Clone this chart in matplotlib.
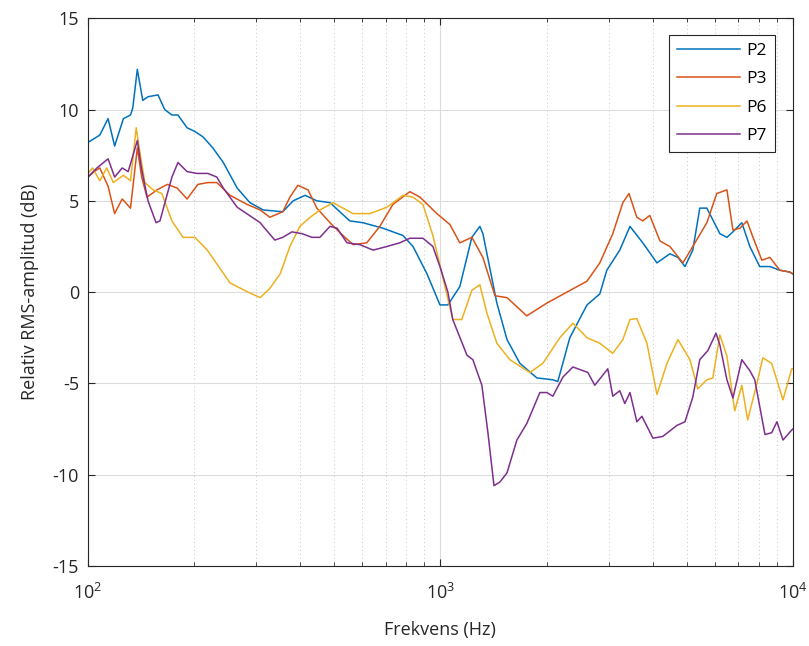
import numpy as np
import matplotlib
matplotlib.use("Agg")
import matplotlib.pyplot as plt
from matplotlib.ticker import LogLocator, FixedLocator, NullFormatter

# values (frequency in Hz, relative RMS amplitude in dB)
p2_f = [100, 108, 114, 119, 126, 132, 134, 138, 143, 148, 158, 165, 173, 180,
        191, 201, 212, 226, 242, 265, 288, 314, 357, 382, 413, 446, 486, 553,
        603, 687, 783, 836, 916, 997, 1050, 1135, 1228, 1294, 1320, 1446, 1545,
        1681, 1878, 2084, 2153, 2329, 2606, 2833, 2966, 3228, 3451, 3752, 4115,
        4478, 4721, 4943, 5202, 5445, 5702, 6209, 6501, 6761, 7166, 7551, 8054,
        8610, 9183, 9795, 10000]
p2_v = [8.2, 8.6, 9.5, 8.0, 9.5, 9.7, 10.1, 12.2, 10.5, 10.7, 10.8, 10.0, 9.7, 9.7,
        9.0, 8.8, 8.5, 7.9, 7.1, 5.7, 4.9, 4.5, 4.4, 5.0, 5.3, 5.0, 4.9, 3.9,
        3.8, 3.5, 3.1, 2.5, 1.0, -0.7, -0.7, 0.3, 3.0, 3.6, 3.2, -0.6, -2.6,
        -3.9, -4.7, -4.8, -4.9, -2.5, -0.7, -0.1, 1.2, 2.3, 3.6, 2.7, 1.6,
        2.1, 1.9, 1.4, 2.3, 4.6, 4.6, 3.2, 3.0, 3.3, 3.8, 2.5, 1.4,
        1.4, 1.2, 1.1, 1.0]

p3_f = [100, 104, 108, 114, 119, 125, 132, 138, 142, 147, 157, 168, 179, 191,
        205, 219, 232, 253, 283, 308, 328, 357, 374, 394, 421, 446, 486, 529,
        565, 618, 673, 733, 819, 875, 977, 1064, 1135, 1228, 1320, 1428, 1545,
        1758, 2005, 2285, 2606, 2833, 3084, 3294, 3428, 3609, 3752, 3927, 4198,
        4478, 4877, 5202, 5702, 6082, 6501, 6761, 7079, 7413, 7709, 8166, 8610,
        9183, 9795, 10000]
p3_v = [6.3, 6.6, 6.8, 5.8, 4.3, 5.1, 4.6, 7.9, 6.3, 5.2, 5.6, 5.9, 5.7, 5.1,
        5.9, 6.0, 6.0, 5.3, 4.8, 4.5, 4.1, 4.4, 5.2, 5.85, 5.6, 4.6, 3.8, 3.1,
        2.6, 2.7, 3.6, 4.8, 5.5, 5.2, 4.3, 3.7, 2.7, 3.0, 1.9, -0.2, -0.3,
        -1.3, -0.6, 0.0, 0.6, 1.6, 3.2, 4.9, 5.4, 4.1, 3.9, 4.2, 2.8,
        2.5, 1.6, 2.5, 3.8, 5.4, 5.6, 3.4, 3.5, 3.9, 3.0, 1.75, 1.9,
        1.2, 1.1, 1.0]

p6_f = [100, 103, 108, 113, 118, 126, 132, 137, 140, 145, 153, 162, 173, 186,
        201, 218, 253, 288, 308, 328, 351, 374, 399, 427, 455, 496, 529, 565,
        631, 705, 783, 836, 892, 952, 1016, 1084, 1150, 1228, 1294, 1355, 1446,
        1574, 1794, 1953, 2182, 2377, 2606, 2833, 3084, 3294, 3451, 3609, 3855,
        4115, 4395, 4721, 5105, 5373, 5702, 5929, 6209, 6501, 6842, 7166, 7447,
        7907, 8222, 8710, 9376, 9931, 10000]
p6_v = [6.5, 6.8, 6.1, 6.8, 6.0, 6.4, 6.1, 9.0, 7.8, 6.0, 5.6, 5.4, 3.9, 3.0,
        3.0, 2.3, 0.5, -0.05, -0.3, 0.2, 1.0, 2.5, 3.6, 4.1, 4.5, 4.9, 4.6, 4.3,
        4.3, 4.65, 5.3, 5.2, 4.8, 3.1, 0.8, -1.5, -1.5, 0.1, 0.4, -1.15, -2.8,
        -3.7, -4.4, -3.9, -2.5, -1.7, -2.5, -2.8, -3.35, -2.6, -1.5, -1.45, -2.8,
        -5.6, -3.9, -2.6, -3.7, -5.3, -4.8, -4.7, -2.35, -3.5, -6.5, -5.1, -7.0,
        -5.0, -3.6, -3.9, -5.9, -4.2, -4.2]

p7_f = [100, 106, 114, 119, 125, 130, 138, 142, 148, 156, 160, 168, 173, 180,
        191, 204, 219, 232, 242, 265, 308, 314, 339, 357, 379, 405, 432, 455,
        486, 509, 543, 591, 644, 705, 767, 819, 892, 952, 997, 1050, 1084, 1189,
        1236, 1311, 1364, 1419, 1475, 1545, 1648, 1758, 1915, 2005, 2084, 2227,
        2377, 2620, 2742, 2985, 3084, 3228, 3336, 3451, 3609, 3730, 4009, 4276,
        4690, 4943, 5202, 5445, 5741, 6053, 6209, 6501, 6761, 7166, 7551, 7798,
        8337, 8710, 9016, 9376, 9931, 10000]
p7_v = [6.3, 6.8, 7.3, 6.3, 6.8, 6.6, 8.3, 6.7, 5.0, 3.8, 3.9, 5.4, 6.3, 7.1,
        6.6, 6.5, 6.5, 6.3, 5.7, 4.65, 3.8, 3.6, 2.85, 3.0, 3.3, 3.2, 3.0, 3.0,
        3.6, 3.5, 2.7, 2.6, 2.3, 2.5, 2.7, 2.95, 2.95, 2.5, 1.4, 0.0, -1.5, -3.45,
        -3.7, -5.1, -7.7, -10.6, -10.4, -9.9, -8.1, -7.2, -5.5, -5.5, -5.7, -4.65,
        -4.1, -4.4, -5.1, -4.2, -5.7, -5.4, -6.1, -5.5, -7.1, -6.8, -8.0, -7.9,
        -7.3, -7.1, -5.75, -3.7, -3.2, -2.25, -2.9, -4.8, -5.8, -3.7, -4.3, -4.8,
        -7.8, -7.7, -7.1, -8.1, -7.55, -7.5]

labels = ["P2", "P3", "P6", "P7"]
colors = ["#0072BD", "#D95319", "#EDB120", "#7E2F8E"]

plt.rcParams["font.family"] = ["Open Sans", "DejaVu Sans"]

fig = plt.figure(figsize=(8.09, 6.46), dpi=100)
ax = fig.add_axes([0.1088, 0.1238, 0.8712, 0.848])

series = [(p2_f, p2_v), (p3_f, p3_v), (p6_f, p6_v), (p7_f, p7_v)]
for (f, v), lab, c in zip(series, labels, colors):
    ax.plot(f, v, color=c, linewidth=1.1, label=lab)

ax.set_xscale("log")
ax.set_xlim(100, 10000)
ax.set_ylim(-15, 15)
ax.set_yticks([-15, -10, -5, 0, 5, 10, 15])
ax.set_yticklabels(["-15", "-10", "-5", "0", "5", "10", "15"])
ax.xaxis.set_major_locator(FixedLocator([100, 1000, 10000]))
ax.xaxis.set_minor_locator(LogLocator(base=10, subs=np.arange(2, 10)))
ax.xaxis.set_minor_formatter(NullFormatter())

ax.grid(True, which="major", color="#dcdcdc", linewidth=0.8)
ax.grid(True, which="minor", axis="x", color="#c8c8c8", linestyle=(0, (1, 3)), linewidth=0.7)
ax.set_axisbelow(True)

ax.tick_params(which="both", direction="in", top=True, right=True, colors="#262626",
               labelsize=13, labelcolor="#262626")
ax.tick_params(which="major", length=5)
ax.tick_params(which="minor", length=3)
ax.tick_params(axis="x", which="major", pad=12)
ax.tick_params(axis="y", which="major", pad=6.5)
for s in ax.spines.values():
    s.set_color("#262626")
    s.set_linewidth(0.8)

ax.set_xlabel("Frekvens (Hz)", fontsize=13, color="#262626", labelpad=13)
ax.set_ylabel("Relativ RMS-amplitud (dB)", fontsize=13, color="#262626", labelpad=10)

leg = ax.legend(loc="upper right", bbox_to_anchor=(0.9745, 0.969), borderaxespad=0,
                fontsize=12.5, fancybox=False, framealpha=1, edgecolor="#262626",
                handlelength=3.6, handletextpad=0.4, labelspacing=0.7, borderpad=0.45)
leg.get_frame().set_linewidth(0.8)

fig.savefig("out.png", dpi=100)
